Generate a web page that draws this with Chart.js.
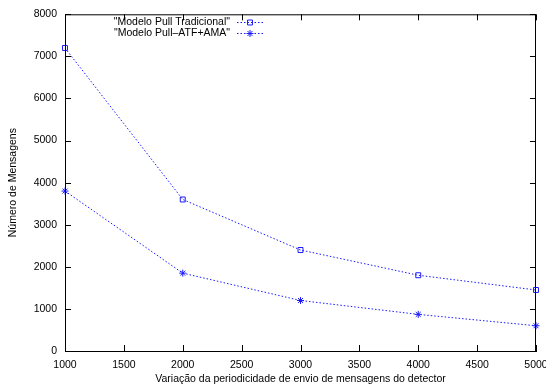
<!DOCTYPE html>
<html lang="pt">
<head>
    <meta charset="UTF-8">
    <title>Número de Mensagens</title>
    <script src="https://cdn.jsdelivr.net/npm/chart.js"></script>
    <style>
        body { margin: 0; background: #fff; }
        canvas { display: block; }
    </style>
</head>
<body>
    <canvas id="grafico" width="546" height="385"></canvas>
    <script>
        // Dados
        const periodos = [1000, 2000, 3000, 4000, 5000];
        const tradicional = [7200, 3600, 2400, 1800, 1450];
        const atfAma = [3800, 1850, 1200, 870, 600];
        const nomes = ['"Modelo Pull Tradicional"', '"Modelo Pull\u2013ATF+AMA"'];

        const fonte = '"Liberation Sans", Arial, sans-serif';
        const azul = '#1a1aff';

        // Marcas de escala para dentro nos quatro lados (estilo gnuplot)
        const marcas = {
            id: 'marcas',
            afterDraw(chart) {
                const ctx = chart.ctx;
                const a = chart.chartArea;
                const x = chart.scales.x, y = chart.scales.y;
                ctx.save();
                ctx.strokeStyle = '#000';
                ctx.lineWidth = 1;
                ctx.strokeRect(a.left + 0.5, a.top + 0.5, a.right - a.left - 1, a.bottom - a.top);
                ctx.beginPath();
                x.ticks.forEach(t => {
                    const px = Math.round(x.getPixelForValue(t.value)) + 0.5;
                    ctx.moveTo(px, a.bottom); ctx.lineTo(px, a.bottom - 6);
                    ctx.moveTo(px, a.top); ctx.lineTo(px, a.top + 6);
                });
                y.ticks.forEach(t => {
                    const py = Math.round(y.getPixelForValue(t.value)) + 0.5;
                    ctx.moveTo(a.left, py); ctx.lineTo(a.left + 6, py);
                    ctx.moveTo(a.right, py); ctx.lineTo(a.right - 6, py);
                });
                ctx.stroke();

                // legenda
                ctx.font = '10.5px ' + fonte;
                ctx.textAlign = 'right';
                ctx.textBaseline = 'middle';
                chart.data.datasets.forEach((ds, i) => {
                    const ly = 22 + i * 11;
                    ctx.fillStyle = '#000';
                    ctx.fillText(ds.label, 230, ly);
                    ctx.save();
                    ctx.strokeStyle = azul;
                    ctx.setLineDash([1.5, 2]);
                    ctx.beginPath();
                    ctx.moveTo(237, ly + 0.5); ctx.lineTo(263, ly + 0.5);
                    ctx.stroke();
                    ctx.restore();
                    ctx.save();
                    ctx.strokeStyle = azul;
                    ctx.fillStyle = 'rgba(0,0,0,0)';
                    ctx.lineWidth = 1;
                    Chart.helpers.drawPoint(ctx, {
                        pointStyle: ds.pointStyle, radius: ds.pointRadius, borderWidth: 1, rotation: 0
                    }, 250, ly + 0.5);
                    ctx.restore();
                });
                ctx.restore();
            }
        };

        new Chart(document.getElementById('grafico'), {
            type: 'line',
            data: {
                datasets: [{
                    label: nomes[0],
                    data: periodos.map((p, i) => ({ x: p, y: tradicional[i] })),
                    borderColor: azul,
                    backgroundColor: 'rgba(0,0,0,0)',
                    borderWidth: 1,
                    borderDash: [1.5, 2],
                    pointStyle: 'rect',
                    pointRadius: 3.5,
                    pointBorderWidth: 1,
                    pointBorderColor: azul,
                    fill: false
                }, {
                    label: nomes[1],
                    data: periodos.map((p, i) => ({ x: p, y: atfAma[i] })),
                    borderColor: azul,
                    backgroundColor: azul,
                    borderWidth: 1,
                    borderDash: [1.5, 2],
                    pointStyle: 'star',
                    pointRadius: 3.5,
                    pointBorderWidth: 1,
                    pointBorderColor: azul,
                    fill: false
                }]
            },
            options: {
                responsive: false,
                animation: false,
                clip: false,
                layout: { padding: { top: 13, right: 10, left: 7, bottom: 0 } },
                plugins: {
                    legend: { display: false },
                    tooltip: { enabled: false }
                },
                scales: {
                    x: {
                        type: 'linear',
                        min: 1000, max: 5000,
                        afterFit: s => { s.height = 34; s.paddingRight = 0; s.paddingLeft = 0; },
                        border: { display: true, color: '#000' },
                        grid: { display: false, drawTicks: false },
                        ticks: {
                            stepSize: 500, color: '#000', padding: 8, maxRotation: 0,
                            font: { family: fonte, size: 10.5 },
                            callback: v => String(v)
                        },
                        title: {
                            display: true,
                            text: 'Variação da periodicidade de envio de mensagens do detector',
                            color: '#000', padding: { top: 3, bottom: 0 },
                            font: { family: fonte, size: 10.5 }
                        }
                    },
                    y: {
                        min: 0, max: 8000,
                        afterFit: s => { s.width = 58; },
                        border: { display: true, color: '#000' },
                        grid: { display: false, drawTicks: false },
                        ticks: {
                            stepSize: 1000, color: '#000', padding: 8,
                            font: { family: fonte, size: 10.5 },
                            callback: v => String(v)
                        },
                        title: {
                            display: true,
                            text: 'Número de Mensagens',
                            color: '#000', padding: { top: 0, bottom: 4 },
                            font: { family: fonte, size: 10.5 }
                        }
                    }
                }
            },
            plugins: [marcas]
        });
    </script>
</body>
</html>
